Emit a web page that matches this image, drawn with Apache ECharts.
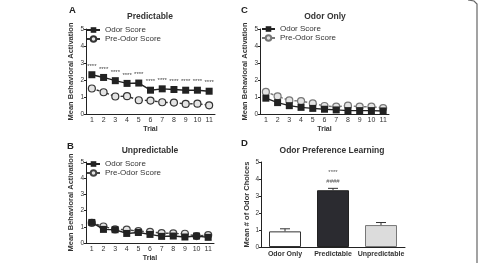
<!DOCTYPE html>
<html><head><meta charset="utf-8">
<script src="https://cdn.jsdelivr.net/npm/echarts@6/dist/echarts.min.js"></script>
<style>html,body{margin:0;padding:0;background:#fff}#c{width:479px;height:263px}</style>
</head><body><div id="c"></div>
<script>
const trials = ['1','2','3','4','5','6','7','8','9','10','11'];
const predOdor = [2.31,2.15,1.96,1.80,1.82,1.40,1.48,1.44,1.40,1.40,1.34];
const predPre  = [1.50,1.28,1.03,1.05,0.81,0.79,0.69,0.67,0.59,0.61,0.51];
const unpOdor  = [1.27,0.84,0.82,0.59,0.65,0.53,0.41,0.43,0.37,0.43,0.35];
const unpPre   = [1.24,1.02,0.84,0.82,0.73,0.69,0.61,0.59,0.57,0.43,0.49];
const onlyOdor = [0.93,0.67,0.49,0.39,0.33,0.28,0.24,0.20,0.20,0.20,0.18];
const onlyPre  = [1.30,1.04,0.80,0.76,0.63,0.47,0.43,0.49,0.43,0.43,0.35];
const prefCats = ['Odor Only','Predictable','Unpredictable'];
const prefMean = [0.92,3.34,1.29];
const prefErr  = [0.15,0.11,0.15];

const F = 'Liberation Sans, Arial, sans-serif';
const TXT = '#333';
const chart = echarts.init(document.getElementById('c'));

const grids = [
  {left:86, top:29, width:129, height:85},   // A
  {left:86, top:162, width:128, height:85},  // B
  {left:260, top:29, width:129, height:85},  // C
  {left:261, top:162, width:144, height:85}  // D
];
function xAx(i, cats, name){
  return {type:'category', gridIndex:i, data:cats, boundaryGap:true,
    name:name, nameLocation:'middle', nameGap: name?12:0,
    nameTextStyle:{fontFamily:F, fontSize:7, fontWeight:'bold', color:TXT},
    axisLine:{lineStyle:{color:'#222', width:1}},
    axisTick:{alignWithLabel:true, length:2, lineStyle:{color:'#222'}},
    axisLabel:{fontFamily:F, fontSize:7, color:TXT, margin:i===3?4:3, interval:0, fontWeight:i===3?'bold':'normal'}};
}
function yAx(i, name, gap){
  return {type:'value', gridIndex:i, min:0, max:5, interval:1,
    name:name, nameLocation:'middle', nameGap:gap,
    nameTextStyle:{fontFamily:F, fontSize:7.5, fontWeight:'bold', color:TXT},
    splitLine:{show:false},
    axisLine:{show:true, lineStyle:{color:'#222', width:1}},
    axisTick:{show:true, length:2, lineStyle:{color:'#222'}},
    axisLabel:{fontFamily:F, fontSize:6.5, color:TXT, margin:2, formatter:v=>String(v)}};
}
function odorSeries(name, xi, data, labels){
  return {name:name, type:'line', xAxisIndex:xi, yAxisIndex:xi, data:data,
    symbol:'rect', symbolSize:7, itemStyle:{color:'#222'},
    lineStyle:{color:'#222', width:1.4},
    label: labels ? {show:true, position:'top', distance:2, formatter:'****', fontSize:6, fontFamily:F, color:'#444'} : {show:false},
    z:3};
}
function preSeries(name, xi, data, col){
  return {name:name, type:'line', xAxisIndex:xi, yAxisIndex:xi, data:data,
    symbol:'circle', symbolSize:7, itemStyle:{color:'#e4e4e4', borderColor:col, borderWidth:1.2},
    lineStyle:{color:col, width:1.4, type:[3,2]}, z:2};
}
function legend(i, left, top){
  const p = ['A','B','C'][i];
  return {left:left, top:top, orient:'vertical', itemGap:1, itemWidth:13, itemHeight:7,
    data:[p+' Odor Score', p+' Pre-Odor Score'], formatter:n=>n.slice(2),
    textStyle:{fontFamily:F, fontSize:8, color:TXT, padding:[0,0,0,0]}, padding:0, selectedMode:false};
}
const titleStyle = {fontFamily:F, fontSize:8.5, fontWeight:'bold', color:TXT};
const letterStyle = {fontFamily:F, fontSize:9.5, fontWeight:'bold', color:'#222'};

const option = {
  animation:false,
  title:[
    {text:'Predictable', left:150, top:12, textAlign:'center', textStyle:titleStyle, padding:0},
    {text:'Unpredictable', left:150, top:146, textAlign:'center', textStyle:titleStyle, padding:0},
    {text:'Odor Only', left:325, top:12, textAlign:'center', textStyle:titleStyle, padding:0},
    {text:'Odor Preference Learning', left:332, top:146, textAlign:'center', textStyle:titleStyle, padding:0},
    {text:'A', left:69, top:5, textStyle:letterStyle, padding:0},
    {text:'B', left:67, top:141, textStyle:letterStyle, padding:0},
    {text:'C', left:241, top:5, textStyle:letterStyle, padding:0},
    {text:'D', left:241, top:138, textStyle:letterStyle, padding:0}
  ],
  legend:[legend(0,86,26), legend(1,86,160), legend(2,261,25)],
  grid:grids,
  xAxis:[xAx(0,trials,'Trial'), xAx(1,trials,'Trial'), xAx(2,trials,'Trial'), xAx(3,prefCats,'')],
  yAxis:[yAx(0,'Mean Behavioral Activation',11), yAx(1,'Mean Behavioral Activation',11),
         yAx(2,'Mean Behavioral Activation',11), yAx(3,'Mean # of Odor Choices',10)],
  series:[
    preSeries('A Pre-Odor Score',0,predPre,'#333'),
    odorSeries('A Odor Score',0,predOdor,true),
    preSeries('B Pre-Odor Score',1,unpPre,'#444'),
    odorSeries('B Odor Score',1,unpOdor,false),
    preSeries('C Pre-Odor Score',2,onlyPre,'#777'),
    odorSeries('C Odor Score',2,onlyOdor,false),
    {type:'bar', xAxisIndex:3, yAxisIndex:3, barWidth:32,
     data:prefMean.map((v,k)=>({value:v, itemStyle:[
        {color:'#fff', borderColor:'#333', borderWidth:1},
        {color:'#2b2b30', borderColor:'#222', borderWidth:1},
        {color:'#dcdcdc', borderColor:'#777', borderWidth:1}][k],
        label: k===1 ? {show:true, position:'top', distance:4, formatter:'****\n####', fontSize:6, lineHeight:9, fontFamily:F, color:'#555'} : {show:false}}))},
    {type:'custom', xAxisIndex:3, yAxisIndex:3, z:5,
     data:prefMean.map((v,k)=>[k, v, v+prefErr[k]]),
     renderItem:function(params, api){
       const x = api.value(0);
       const a = api.coord([x, api.value(1)]);
       const b = api.coord([x, api.value(2)]);
       const hw = 5;
       return {type:'group', children:[
         {type:'line', shape:{x1:a[0], y1:a[1], x2:b[0], y2:b[1]}, style:{stroke:'#333', lineWidth:1}},
         {type:'line', shape:{x1:b[0]-hw, y1:b[1], x2:b[0]+hw, y2:b[1]}, style:{stroke:'#333', lineWidth:1}}
       ]};
     }}
  ],
  graphic:[
    {type:'polyline', shape:{points:[[468,0],[474,1],[477,4],[477,263]]}, style:{stroke:'#666', lineWidth:1.2, fill:null}}
  ]
};
chart.setOption(option);
</script></body></html>
